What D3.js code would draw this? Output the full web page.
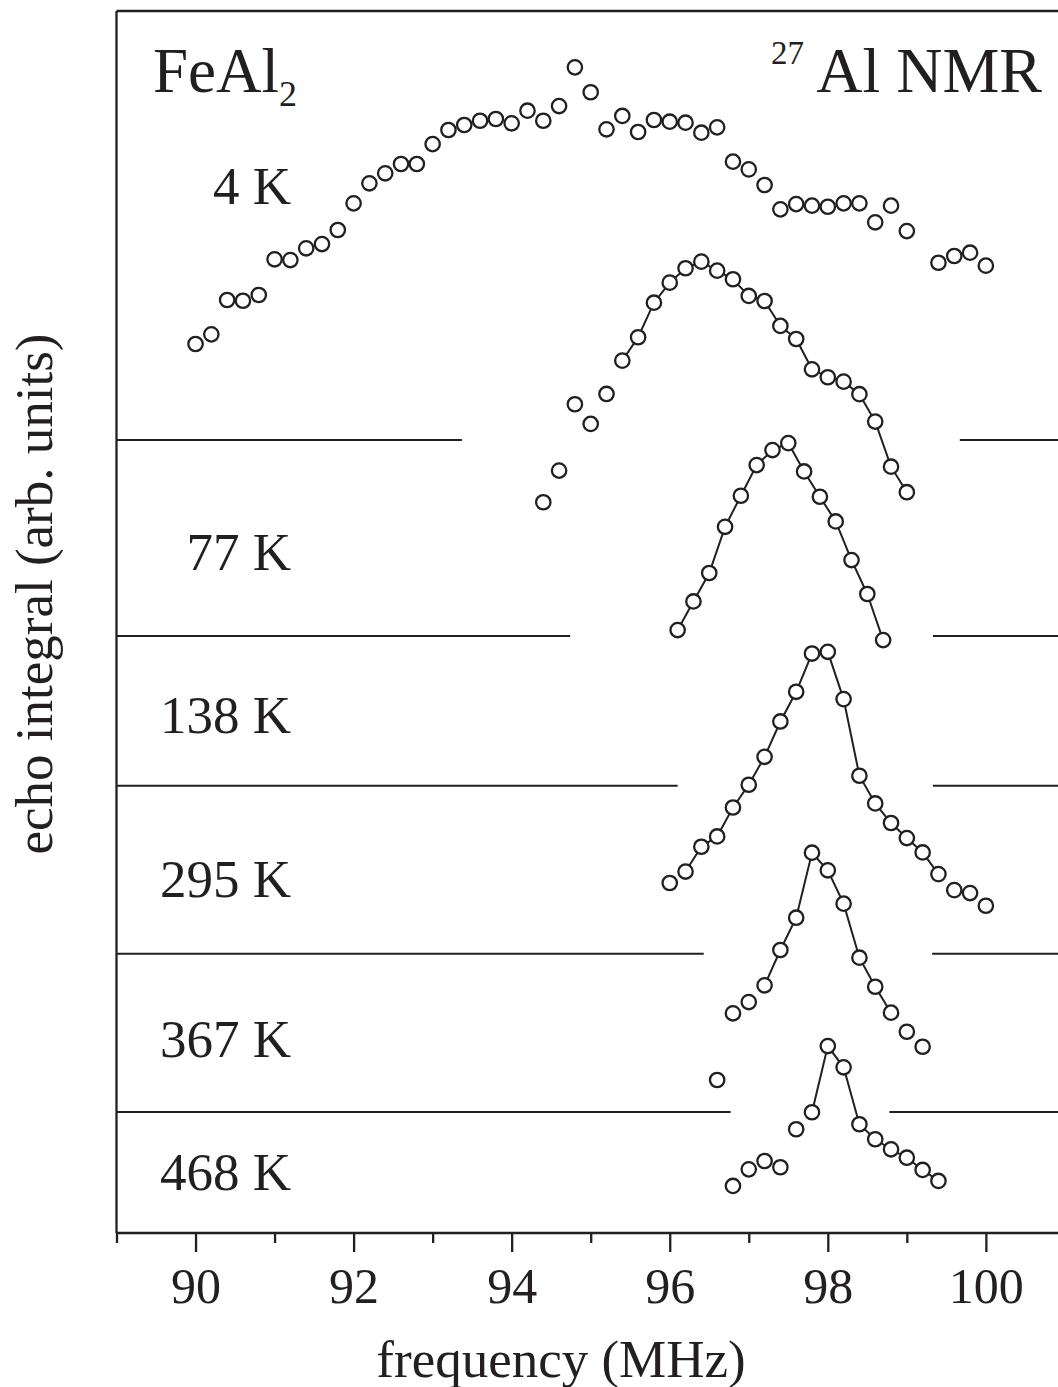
<!DOCTYPE html>
<html>
<head>
<meta charset="utf-8">
<script src="https://cdn.jsdelivr.net/npm/d3@7"></script>
<style>
  html, body { margin: 0; padding: 0; background: #ffffff; }
  svg { display: block; }
  text { font-family: "Liberation Serif", "Times New Roman", Times, serif; fill: #231f20; }
</style>
</head>
<body>
<svg id="chart" width="1058" height="1387"></svg>
<script>
// 27Al NMR spectra of FeAl2 at several temperatures (echo integral, arb. units)

const temperatures = ["4 K", "77 K", "138 K", "295 K", "367 K", "468 K"];

// vertical offset of each spectrum's baseline (arb. units)
const baselineOffsets = [64.9, 48.85, 36.6, 22.85, 9.9, 0];

// frequencies (MHz) and echo integrals above baseline (arb. units)
const freq4K = [90.0, 90.2, 90.4, 90.6, 90.8, 91.0, 91.2, 91.4, 91.6, 91.8,
                92.0, 92.2, 92.4, 92.6, 92.8, 93.0, 93.2, 93.4, 93.6, 93.8,
                94.0, 94.2, 94.4, 94.6, 94.8, 95.0, 95.2, 95.4, 95.6, 95.8,
                96.0, 96.2, 96.4, 96.6, 96.8, 97.0, 97.2, 97.4, 97.6, 97.8,
                98.0, 98.2, 98.4, 98.6, 98.8, 99.0, 99.4, 99.6, 99.8, 100.0];
const echo4K = [7.85, 8.64, 11.45, 11.39, 11.86, 14.78, 14.72, 15.68, 16.03, 17.18,
                19.36, 21.0, 21.82, 22.58, 22.58, 24.21, 25.36, 25.77, 26.12, 26.26,
                25.91, 26.94, 26.12, 27.32, 30.49, 28.45, 25.42, 26.51, 25.20, 26.18,
                26.04, 25.96, 25.14, 25.58, 22.77, 22.14, 20.86, 18.87, 19.30, 19.17,
                19.08, 19.36, 19.36, 17.81, 19.17, 17.09, 14.50, 15.05, 15.32, 14.26];

const freq77K = [94.4, 94.6, 94.8, 95.0, 95.2, 95.4, 95.6, 95.8, 96.0, 96.2,
                 96.4, 96.6, 96.8, 97.0, 97.2, 97.4, 97.6, 97.8, 98.0, 98.2,
                 98.4, 98.6, 98.8, 99.0];
const echo77K = [10.95, 13.54, 18.97, 17.36, 19.81, 22.54, 24.45, 27.28, 28.92, 30.10,
                 30.64, 29.90, 29.20, 27.83, 27.42, 25.38, 24.31, 21.83, 21.18, 20.82,
                 19.79, 17.55, 13.86, 11.77];

const freq138K = [96.1, 96.3, 96.5, 96.7, 96.9, 97.1, 97.3, 97.5, 97.7, 97.9,
                  98.1, 98.3, 98.5, 98.7];
const echo138K = [12.74, 15.08, 17.41, 21.19, 23.73, 26.24, 27.47, 28.04, 25.72, 23.65,
                  21.63, 18.47, 15.69, 11.92];

const freq295K = [96.0, 96.2, 96.4, 96.6, 96.8, 97.0, 97.2, 97.4, 97.6, 97.8,
                  98.0, 98.2, 98.4, 98.6, 98.8, 99.0, 99.2, 99.4, 99.6, 99.8, 100.0];
const echo295K = [5.79, 6.73, 8.76, 9.60, 11.97, 13.83, 16.12, 19.01, 21.44, 24.57,
                  24.71, 20.84, 14.57, 12.30, 10.70, 9.47, 8.29, 6.52, 5.21, 4.97, 3.93];

const freq367K = [96.6, 96.8, 97.0, 97.2, 97.4, 97.6, 97.8, 98.0, 98.2, 98.4,
                  98.6, 98.8, 99.0, 99.2];
const echo367K = [2.62, 8.08, 9.00, 10.37, 13.26, 15.90, 21.22, 19.78, 17.05, 12.63,
                  10.25, 8.13, 6.57, 5.34];

const freq468K = [96.8, 97.0, 97.2, 97.4, 97.6, 97.8, 98.0, 98.2, 98.4, 98.6,
                  98.8, 99.0, 99.2, 99.4];
const echo468K = [3.85, 5.21, 5.89, 5.38, 8.49, 9.88, 15.30, 13.56, 8.90, 7.67,
                  6.85, 6.16, 5.16, 4.26];

// frequency span joined by a guide line (null = symbols only)
const guideSpans = [null, [95.4, 99.0], [96.1, 98.7], [96.2, 99.4], [97.2, 98.8], [97.8, 99.4]];

// frequency intervals where each baseline is interrupted
const baselineGaps = [[93.37, 99.67], [94.74, 99.33], [96.10, 99.33], [96.43, 99.32], [96.77, 98.78], null];

const majorTicks = [90, 92, 94, 96, 98, 100];
const minorTicks = [89, 91, 93, 95, 97, 99, 101];

const spectra = [
  { f: freq4K,   v: echo4K },
  { f: freq77K,  v: echo77K },
  { f: freq138K, v: echo138K },
  { f: freq295K, v: echo295K },
  { f: freq367K, v: echo367K },
  { f: freq468K, v: echo468K }
];

// ---------------------------------------------------------------------------
const ink = "#231f20";
const svg = d3.select("#chart");
const W = 1058;

const plot = { left: 116.5, top: 11, bottom: 1233 };

const x = d3.scaleLinear().domain([89, 101]).range([plot.left, 1064.9]);
const y = d3.scaleLinear().domain([0, 100]).range([plot.bottom, plot.top]);

// frame: top and left edges
svg.append("line")
  .attr("x1", x(89)).attr("x2", W + 10)
  .attr("y1", plot.top).attr("y2", plot.top)
  .attr("stroke", ink).attr("stroke-width", 2.3);
svg.append("line")
  .attr("x1", x(89)).attr("x2", x(89))
  .attr("y1", plot.top).attr("y2", plot.bottom)
  .attr("stroke", ink).attr("stroke-width", 2.3);

// baselines
const baseG = svg.append("g");
spectra.forEach((s, i) => {
  const gap = baselineGaps[i];
  if (!gap) return;
  const yb = y(baselineOffsets[i]);
  const pieces = [[89, gap[0]], [gap[1], 101]];
  pieces.forEach(p => {
    baseG.append("line")
      .attr("x1", x(p[0])).attr("x2", x(p[1]))
      .attr("y1", yb).attr("y2", yb)
      .attr("stroke", ink).attr("stroke-width", 2);
  });
});

// guide lines then symbols
const lineGen = d3.line().x(d => x(d[0])).y(d => y(d[1]));
spectra.forEach((s, i) => {
  const off = baselineOffsets[i];
  const pts = s.f.map((f, k) => [f, s.v[k] + off]);
  const span = guideSpans[i];
  if (span) {
    const seg = pts.filter(p => p[0] >= span[0] - 1e-6 && p[0] <= span[1] + 1e-6);
    svg.append("path")
      .attr("d", lineGen(seg))
      .attr("fill", "none")
      .attr("stroke", ink)
      .attr("stroke-width", 2);
  }
  svg.append("g").selectAll("circle")
    .data(pts)
    .join("circle")
    .attr("cx", d => x(d[0]))
    .attr("cy", d => y(d[1]))
    .attr("r", 7.2)
    .attr("fill", "#ffffff")
    .attr("stroke", ink)
    .attr("stroke-width", 2.3);
});

// bottom axis
const axisG = svg.append("g").attr("transform", `translate(0,${plot.bottom})`);
axisG.append("line")
  .attr("x1", x(89)).attr("x2", W + 10)
  .attr("stroke", ink).attr("stroke-width", 2.3);

const majorAxis = d3.axisBottom(x).tickValues(majorTicks).tickSize(19).tickFormat(d3.format("d"));
const minorAxis = d3.axisBottom(x).tickValues(minorTicks).tickSize(10).tickFormat("");

const gMinor = axisG.append("g").call(minorAxis);
const gMajor = axisG.append("g").call(majorAxis);
[gMinor, gMajor].forEach(g => {
  g.select(".domain").remove();
  g.selectAll(".tick line").attr("stroke", ink).attr("stroke-width", 2.3);
});
gMajor.selectAll(".tick text")
  .attr("y", 70).attr("dy", 0)
  .attr("fill", ink)
  .style("font-family", '"Liberation Serif", "Times New Roman", serif')
  .style("font-size", "50px");

// axis titles
svg.append("text")
  .attr("x", 561).attr("y", 1377)
  .attr("text-anchor", "middle")
  .style("font-size", "53px")
  .text("frequency (MHz)");

svg.append("text")
  .attr("transform", "translate(52,594) rotate(-90)")
  .attr("text-anchor", "middle")
  .style("font-size", "53px")
  .text("echo integral (arb. units)");

// temperature labels
const labelBaselines = [204, 570, 733, 897, 1057, 1190];
svg.append("g").selectAll("text")
  .data(temperatures)
  .join("text")
  .attr("x", 291)
  .attr("y", (d, i) => labelBaselines[i])
  .attr("text-anchor", "end")
  .style("font-size", "53px")
  .text(d => d);

// compound and nucleus
const comp = svg.append("text").attr("x", 153).attr("y", 92).style("font-size", "63px");
comp.append("tspan").text("FeAl");
comp.append("tspan").attr("dy", 14).style("font-size", "36px").text("2");

svg.append("text")
  .attr("x", 771).attr("y", 64)
  .style("font-size", "33px")
  .text("27");
svg.append("text")
  .attr("x", 1042).attr("y", 92)
  .attr("text-anchor", "end")
  .style("font-size", "64px")
  .text("Al NMR");
</script>
</body>
</html>
